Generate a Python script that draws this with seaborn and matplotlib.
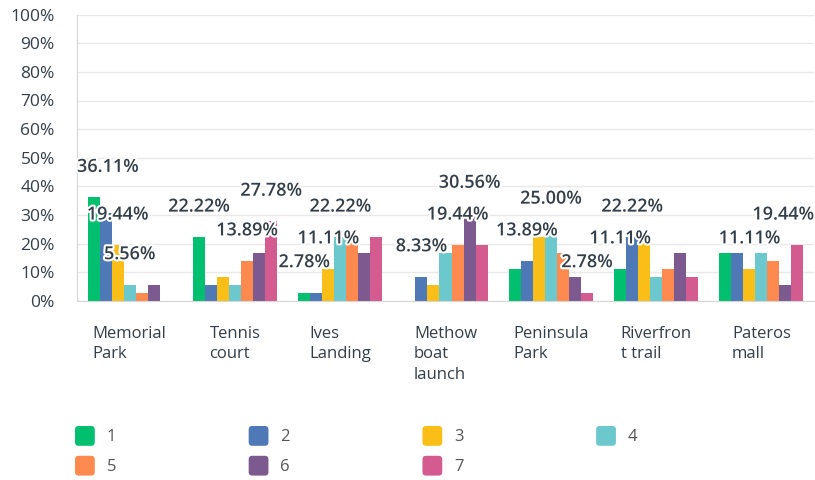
import numpy as np
import pandas as pd
import seaborn as sns
import matplotlib
matplotlib.use("Agg")
import matplotlib.pyplot as plt
from matplotlib.patches import Patch, FancyBboxPatch
from matplotlib.legend_handler import HandlerPatch
import matplotlib.patheffects as pe

# ---------------- data ----------------
categories = ["Memorial\nPark", "Tennis\ncourt", "Ives\nLanding", "Methow\nboat\nlaunch",
              "Peninsula\nPark", "Riverfron\nt trail", "Pateros\nmall"]
ranks = ["1", "2", "3", "4", "5", "6", "7"]
rank1 = [36.11, 22.22, 2.78, 0.00, 11.11, 11.11, 16.67]
rank2 = [30.56, 5.56, 2.78, 8.33, 13.89, 22.22, 16.67]
rank3 = [19.44, 8.33, 11.11, 5.56, 22.22, 22.22, 11.11]
rank4 = [5.56, 5.56, 22.22, 16.67, 25.00, 8.33, 16.67]
rank5 = [2.78, 13.89, 22.22, 19.44, 16.67, 11.11, 13.89]
rank6 = [5.56, 16.67, 16.67, 30.56, 8.33, 16.67, 5.56]
rank7 = [0.00, 27.78, 22.22, 19.44, 2.78, 8.33, 19.44]
series = [rank1, rank2, rank3, rank4, rank5, rank6, rank7]
# bars that carry a value label: (category index, rank index)
labelled = [(0, 0), (0, 2), (0, 3), (1, 0), (1, 6), (1, 4), (2, 0), (2, 2), (2, 3),
            (3, 1), (3, 4), (3, 5), (4, 1), (4, 3), (4, 6), (5, 0), (5, 1), (6, 2), (6, 6)]
yticks = [0, 10, 20, 30, 40, 50, 60, 70, 80, 90, 100]

colors = ["#00bf6f", "#4f78b6", "#f9be17", "#6bc8cc", "#ff8a4f", "#7c5a8f", "#d35b8f"]

df = pd.DataFrame({
    "site": np.repeat(categories, len(ranks)),
    "rank": ranks * len(categories),
    "pct": [series[r][c] for c in range(len(categories)) for r in range(len(ranks))],
})

FONT = "Open Sans"
DARK = "#333e48"

fig = plt.figure(figsize=(8.15, 4.8), dpi=100)
ax = fig.add_axes([77 / 815, 1 - 300.7 / 480, 737 / 815, (300.7 - 14.7) / 480])

sns.barplot(data=df, x="site", y="pct", hue="rank", order=categories, hue_order=ranks,
            palette=colors, saturation=1, width=0.8, ax=ax, legend=False, zorder=2)

ax.set_ylim(0, 100)
ax.set_xlim(-0.5, len(categories) - 0.5)
ax.set_yticks(yticks)
ax.set_yticklabels([f"{t}%" for t in yticks], fontsize=12.5, family=FONT, color=DARK)
ax.set_xticks(range(len(categories)))
ax.set_xticklabels(categories, fontsize=12, family=FONT, color=DARK,
                   ha="center", va="top", multialignment="left", linespacing=1.4)
ax.tick_params(axis="y", length=0, pad=16)
ax.tick_params(axis="x", length=0, pad=18)
ax.set_xlabel("")
ax.set_ylabel("")
ax.set_facecolor("white")
ax.yaxis.grid(True, color="#e9e9e9", linewidth=1, zorder=0)
ax.xaxis.grid(False)
ax.set_axisbelow(True)
for s in ["top", "right"]:
    ax.spines[s].set_visible(False)
ax.spines["left"].set_color("#d6d6d6")
ax.spines["bottom"].set_color("#d6d6d6")

# value labels
anns = []
for (c, r) in labelled:
    patch = ax.containers[r].patches[c]
    x = patch.get_x() + patch.get_width() / 2
    h = patch.get_height()
    a = ax.annotate(f"{h:.2f}%", xy=(x, h), xytext=(0, 22), textcoords="offset points",
                    ha="center", va="center", fontsize=13, fontweight="semibold",
                    family=FONT, color=DARK, zorder=5, annotation_clip=False)
    a.set_path_effects([pe.withStroke(linewidth=3, foreground="white")])
    anns.append(a)

fig.canvas.draw()
renderer = fig.canvas.get_renderer()
axbb = ax.get_window_extent(renderer)
for a in anns:
    bb = a.get_window_extent(renderer)
    dx = 0
    if bb.x0 < axbb.x0:
        dx = (axbb.x0 - bb.x0)
    elif bb.x1 > axbb.x1:
        dx = (axbb.x1 - bb.x1)
    if dx:
        a.xyann = (dx * 72 / fig.dpi, 22)


class RoundHandler(HandlerPatch):
    def create_artists(self, legend, orig_handle, xdescent, ydescent, width, height,
                       fontsize, trans):
        s = min(width, height)
        p = FancyBboxPatch((-xdescent, -ydescent + (height - s) / 2), s, s,
                           boxstyle=f"round,pad=0,rounding_size={s * 0.18}",
                           facecolor=orig_handle.get_facecolor(), edgecolor="none",
                           transform=trans)
        return [p]


handles = [Patch(facecolor=col, label=lab) for col, lab in zip(colors, ranks)]
order = [0, 4, 1, 5, 2, 6, 3]
leg = fig.legend([handles[i] for i in order], [ranks[i] for i in order],
                 loc="upper left", bbox_to_anchor=(75 / 815, 1 - 426 / 480),
                 ncol=4, frameon=False, borderpad=0, borderaxespad=0,
                 handlelength=1.45, handleheight=1.45, handletextpad=0.45,
                 columnspacing=7.95, labelspacing=0.6,
                 handler_map={Patch: RoundHandler()},
                 prop={"family": FONT, "size": 12})
for t in leg.get_texts():
    t.set_color("#555555")

fig.savefig("out.png", dpi=100, facecolor="white")
